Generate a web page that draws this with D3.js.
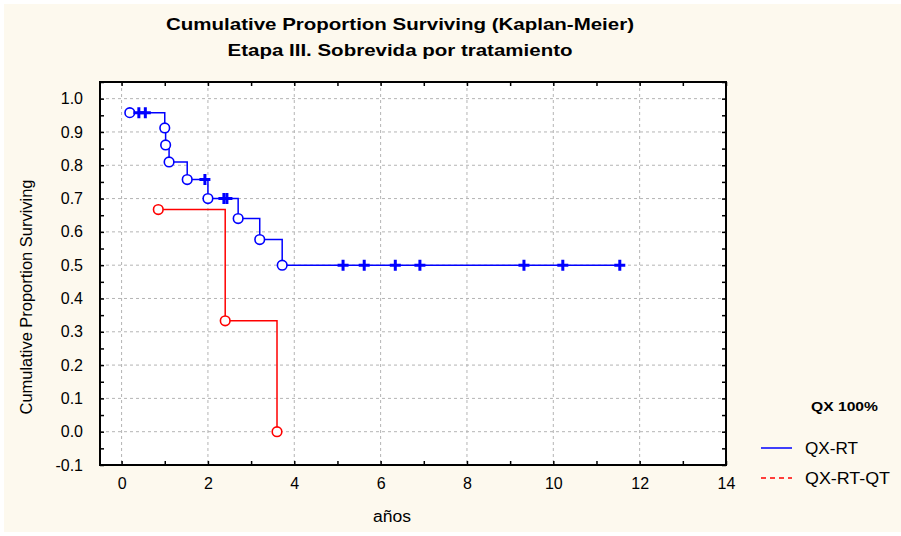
<!DOCTYPE html>
<html>
<head>
<meta charset="utf-8">
<script src="https://cdn.jsdelivr.net/npm/d3@7"></script>
<style>
  body { margin: 0; background: #ffffff; }
  svg { display: block; font-family: "Liberation Sans", Arial, sans-serif; }
</style>
</head>
<body>
<svg id="chart" width="901" height="536"></svg>
<script>
// QX-RT group (blue): time in years, survival after the event, censored flag
var rtTimes = [0.19, 0.40, 0.55, 1.00, 1.02, 1.10, 1.52, 1.93, 2.00, 2.37, 2.44, 2.70, 3.20, 3.72, 5.13, 5.62, 6.34, 6.91, 9.32, 10.22, 11.54];
var rtSurv  = [0.958, 0.958, 0.958, 0.912, 0.861, 0.810, 0.757, 0.757, 0.700, 0.700, 0.700, 0.640, 0.577, 0.500, 0.500, 0.500, 0.500, 0.500, 0.500, 0.500, 0.500];
var rtCens  = [0, 1, 1, 0, 0, 0, 0, 1, 0, 1, 1, 0, 0, 0, 1, 1, 1, 1, 1, 1, 1];

// QX-RT-QT group (red)
var qtTimes = [0.85, 2.40, 3.60];
var qtSurv  = [0.667, 0.333, 0.000];
var qtCens  = [0, 0, 0];

var xTicks = [0, 2, 4, 6, 8, 10, 12, 14];
var yTicks = [-0.1, 0.0, 0.1, 0.2, 0.3, 0.4, 0.5, 0.6, 0.7, 0.8, 0.9, 1.0];
var legendTitle = "QX 100%";
var seriesNames = ["QX-RT", "QX-RT-QT"];

var svg = d3.select("#chart");
var rect = { x: 100, y: 82, w: 626, h: 383 };

svg.append("rect")
    .attr("x", 4).attr("y", 4)
    .attr("width", 897).attr("height", 528)
    .attr("fill", "#fdf9ee");

var x = d3.scaleLinear().domain([-0.5, 14]).range([rect.x, rect.x + rect.w]);
var y = d3.scaleLinear().domain([-0.1, 1.05]).range([rect.y + rect.h, rect.y]);

svg.append("rect")
    .attr("x", rect.x).attr("y", rect.y)
    .attr("width", rect.w).attr("height", rect.h)
    .attr("fill", "#ffffff");

// grid
var grid = svg.append("g").attr("stroke", "#b4b4b4").attr("stroke-dasharray", "3,3").attr("stroke-width", 1);
grid.selectAll(".gx").data(xTicks.filter(function (d) { return d < 14; }))
  .enter().append("line")
    .attr("x1", function (d) { return x(d); }).attr("x2", function (d) { return x(d); })
    .attr("y1", rect.y).attr("y2", rect.y + rect.h);
grid.selectAll(".gy").data(yTicks.filter(function (d) { return d > -0.1; }))
  .enter().append("line")
    .attr("y1", function (d) { return y(d); }).attr("y2", function (d) { return y(d); })
    .attr("x1", rect.x).attr("x2", rect.x + rect.w);

// axes with inward ticks on all four sides
var xMinor = d3.range(0, 15, 1);
var yMinor = d3.range(-0.1, 1.051, 0.05);

function tickAxis(axis, g) {
    g.call(axis);
    g.select(".domain").remove();
    g.selectAll("line").attr("stroke", "#000").attr("stroke-width", 1.5);
}

tickAxis(d3.axisBottom(x).tickValues(xMinor).tickSize(-4).tickFormat(""),
    svg.append("g").attr("transform", "translate(0," + (rect.y + rect.h) + ")"));
tickAxis(d3.axisTop(x).tickValues(xMinor).tickSize(-4).tickFormat(""),
    svg.append("g").attr("transform", "translate(0," + rect.y + ")"));
tickAxis(d3.axisLeft(y).tickValues(yMinor).tickSize(-4).tickFormat(""),
    svg.append("g").attr("transform", "translate(" + rect.x + ",0)"));
tickAxis(d3.axisRight(y).tickValues(yMinor).tickSize(-4).tickFormat(""),
    svg.append("g").attr("transform", "translate(" + (rect.x + rect.w) + ",0)"));

var fmtY = function (d) { return d3.format(".1f")(d).replace("\u2212", "-"); };

var xAxis = svg.append("g")
    .attr("transform", "translate(0," + (rect.y + rect.h) + ")")
    .call(d3.axisBottom(x).tickValues(xTicks).tickSize(0).tickPadding(13).tickFormat(d3.format("d")));
xAxis.select(".domain").remove();
xAxis.selectAll("text").attr("font-size", 16).attr("fill", "#000").attr("font-family", "Liberation Sans, Arial, sans-serif");

var yAxis = svg.append("g")
    .attr("transform", "translate(" + rect.x + ",0)")
    .call(d3.axisLeft(y).tickValues(yTicks).tickSize(0).tickPadding(17).tickFormat(fmtY));
yAxis.select(".domain").remove();
yAxis.selectAll("text").attr("font-size", 16).attr("fill", "#000").attr("font-family", "Liberation Sans, Arial, sans-serif");

svg.append("rect")
    .attr("x", rect.x).attr("y", rect.y)
    .attr("width", rect.w).attr("height", rect.h)
    .attr("fill", "none").attr("stroke", "#000").attr("stroke-width", 2);

// survival curves
var step = d3.line()
    .x(function (d) { return x(d.t); })
    .y(function (d) { return y(d.s); })
    .curve(d3.curveStepAfter);

function makeSeries(times, surv, cens) {
    return times.map(function (t, i) { return { t: t, s: surv[i], c: cens[i] }; });
}

var series = [
    { data: makeSeries(rtTimes, rtSurv, rtCens), color: "#0000ff" },
    { data: makeSeries(qtTimes, qtSurv, qtCens), color: "#ff0000" }
];

series.forEach(function (sr) {
    svg.append("path")
        .datum(sr.data)
        .attr("d", step)
        .attr("fill", "none")
        .attr("stroke", sr.color)
        .attr("stroke-width", 1.5);

    svg.selectAll(null)
        .data(sr.data.filter(function (d) { return !d.c; }))
      .enter().append("circle")
        .attr("cx", function (d) { return x(d.t); })
        .attr("cy", function (d) { return y(d.s); })
        .attr("r", 4.8)
        .attr("fill", "#ffffff")
        .attr("stroke", sr.color)
        .attr("stroke-width", 1.6);

    svg.selectAll(null)
        .data(sr.data.filter(function (d) { return d.c; }))
      .enter().append("path")
        .attr("d", function (d) {
            var cx = x(d.t), cy = y(d.s);
            return "M" + (cx - 5.5) + "," + cy + "H" + (cx + 5.5) + "M" + cx + "," + (cy - 5.5) + "V" + (cy + 5.5);
        })
        .attr("stroke", sr.color)
        .attr("stroke-width", 3)
        .attr("fill", "none");
});

// titles
svg.append("text")
    .attr("x", 400).attr("y", 30)
    .attr("text-anchor", "middle")
    .attr("font-size", 17).attr("font-weight", "bold")
    .attr("textLength", 468).attr("lengthAdjust", "spacingAndGlyphs")
    .text("Cumulative Proportion Surviving (Kaplan-Meier)");
svg.append("text")
    .attr("x", 400).attr("y", 56)
    .attr("text-anchor", "middle")
    .attr("font-size", 17).attr("font-weight", "bold")
    .attr("textLength", 345).attr("lengthAdjust", "spacingAndGlyphs")
    .text("Etapa III. Sobrevida por tratamiento");

svg.append("text")
    .attr("transform", "translate(32,297) rotate(-90)")
    .attr("text-anchor", "middle")
    .attr("font-size", 16)
    .attr("textLength", 235).attr("lengthAdjust", "spacingAndGlyphs")
    .text("Cumulative Proportion Surviving");

svg.append("text")
    .attr("x", 392).attr("y", 522)
    .attr("text-anchor", "middle")
    .attr("font-size", 16)
    .attr("textLength", 38).attr("lengthAdjust", "spacingAndGlyphs")
    .text("años");

// legend
var legend = svg.append("g");
legend.append("text")
    .attr("x", 811).attr("y", 411)
    .attr("font-size", 12.5).attr("font-weight", "bold")
    .attr("textLength", 67).attr("lengthAdjust", "spacingAndGlyphs")
    .text(legendTitle);

var legendStyles = [
    { color: "#0000ff", dash: null, len: 53 },
    { color: "#ff0000", dash: "5,4", len: 85 }
];
legend.selectAll(".item")
    .data(seriesNames)
  .enter().append("g")
    .attr("transform", function (d, i) { return "translate(0," + (448 + i * 30) + ")"; })
    .each(function (d, i) {
        var g = d3.select(this);
        g.append("line")
            .attr("x1", 761).attr("x2", 792)
            .attr("y1", 0).attr("y2", 0)
            .attr("stroke", legendStyles[i].color)
            .attr("stroke-width", 1.5)
            .attr("stroke-dasharray", legendStyles[i].dash);
        g.append("text")
            .attr("x", 805).attr("y", 6)
            .attr("font-size", 17)
            .attr("textLength", legendStyles[i].len).attr("lengthAdjust", "spacingAndGlyphs")
            .text(d);
    });
</script>
</body>
</html>
